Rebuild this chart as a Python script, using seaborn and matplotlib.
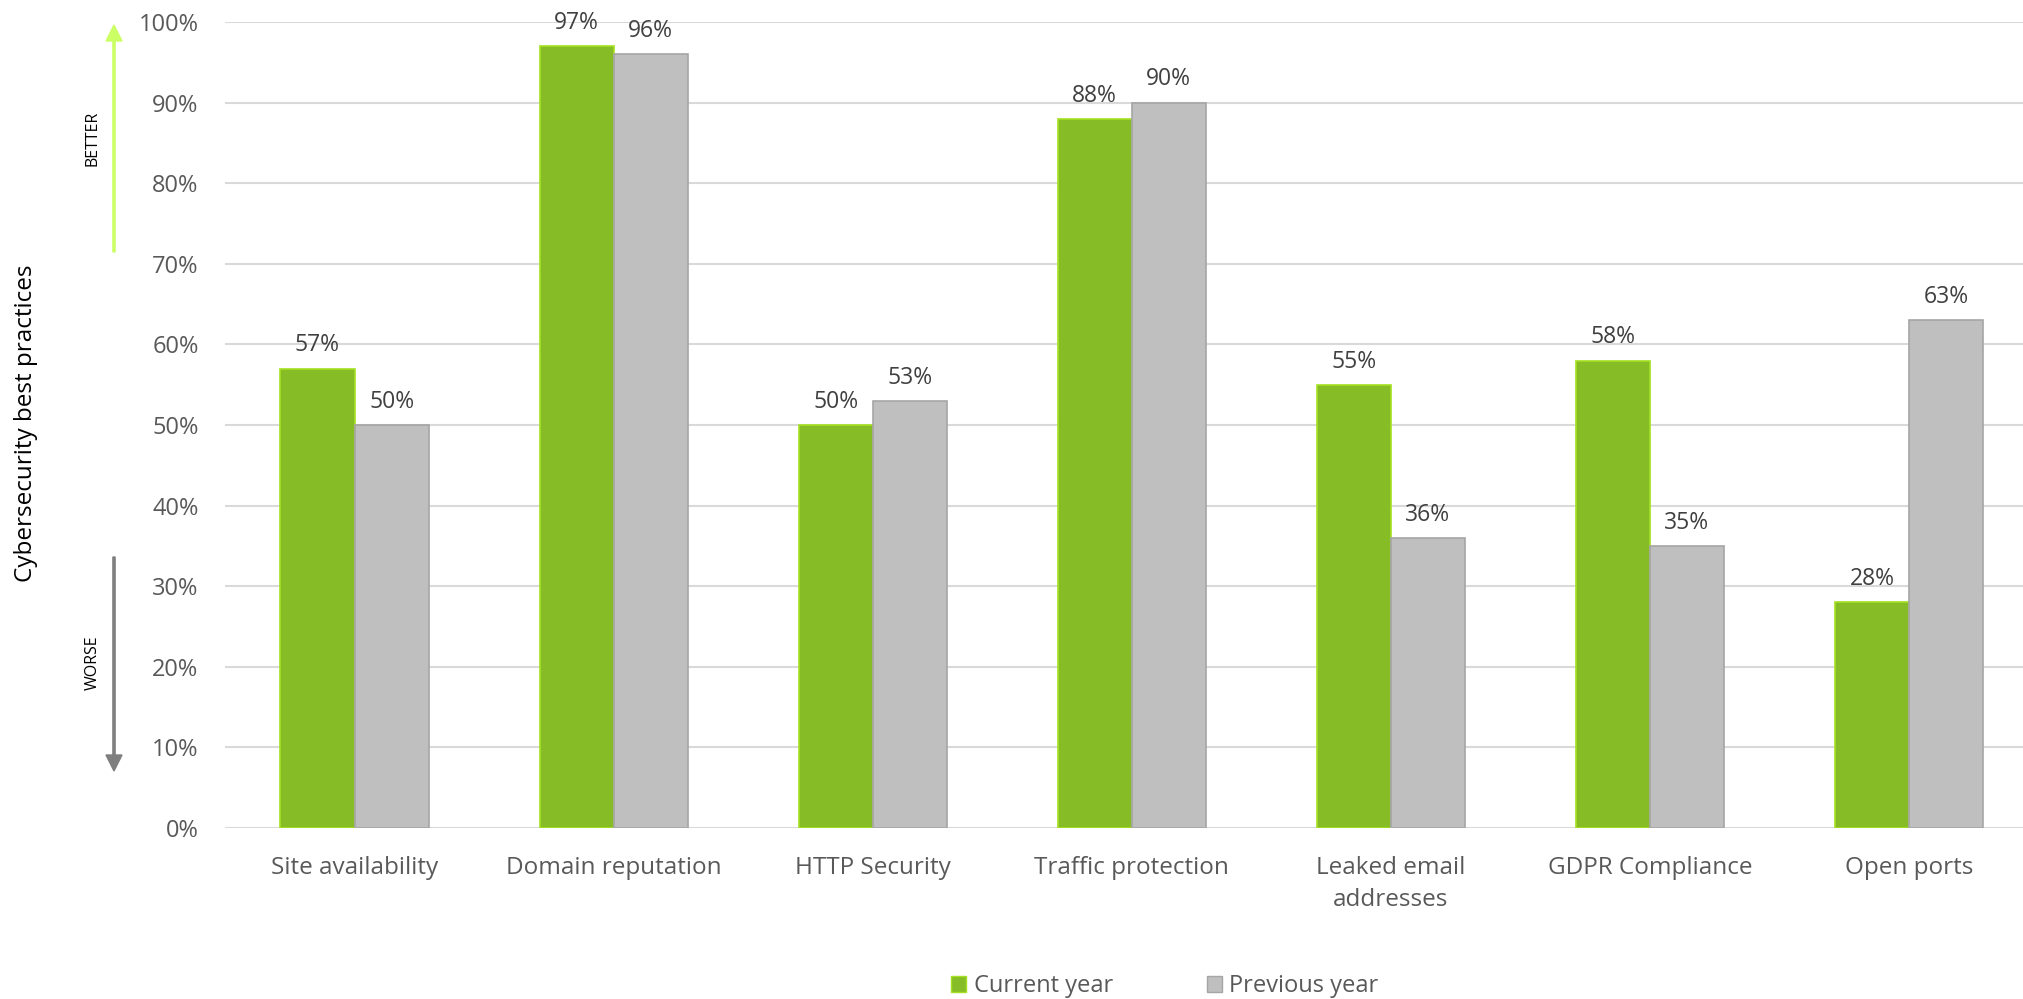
import matplotlib
matplotlib.use("Agg")
import matplotlib.pyplot as plt
from matplotlib.patches import FancyArrow, Patch
import seaborn as sns
import pandas as pd

categories = ["Site availability", "Domain reputation", "HTTP Security",
              "Traffic protection", "Leaked email\naddresses", "GDPR Compliance",
              "Open ports"]
current_year = [57, 97, 50, 88, 55, 58, 28]
previous_year = [50, 96, 53, 90, 36, 35, 63]
series_names = ["Current year", "Previous year"]
y_ticks = [0, 10, 20, 30, 40, 50, 60, 70, 80, 90, 100]

GREEN = "#86BC25"
GREEN_EDGE = "#A6E022"
GREY = "#BFBFBF"
GREY_EDGE = "#A5A5A5"
TEXT = "#595959"
GRID = "#D9D9D9"

sns.set_theme(style="white")
plt.rcParams["font.family"] = ["Open Sans", "DejaVu Sans"]

df = pd.DataFrame({
    "category": categories * 2,
    "value": current_year + previous_year,
    "series": [series_names[0]] * len(categories) + [series_names[1]] * len(categories),
})

W, H = 2023, 999
fig = plt.figure(figsize=(W / 100, H / 100), dpi=100)
ax = fig.add_axes([225 / W, 1 - 828 / H, (W - 225) / W, (828 - 22) / H])

sns.barplot(data=df, x="category", y="value", hue="series", order=categories,
            hue_order=series_names, palette=[GREEN, GREY], width=0.572,
            saturation=1, ax=ax, legend=False, zorder=3)

edge_colors = [GREEN_EDGE, GREY_EDGE]
for container, ec in zip(ax.containers, edge_colors):
    for bar in container:
        bar.set_edgecolor(ec)
        bar.set_linewidth(1.2)
    ax.bar_label(container, labels=[f"{int(v)}%" for v in container.datavalues],
                 padding=8, fontsize=16.5, color="#404040")

ax.set_ylim(0, 100)
ax.set_xlim(-0.5, 6.44)
ax.set_yticks(y_ticks)
ax.set_yticklabels([f"{t}%" for t in y_ticks], fontsize=17, color=TEXT)
ax.tick_params(axis="y", length=0, pad=19)
ax.tick_params(axis="x", length=0, pad=20, labelsize=17.5, labelcolor=TEXT)
for lbl in ax.get_xticklabels():
    lbl.set_linespacing(1.45)
ax.yaxis.grid(True, color=GRID, linewidth=1.5, zorder=0)
ax.set_axisbelow(True)
for s in ax.spines.values():
    s.set_visible(False)
ax.set_xlabel("")
ax.set_ylabel("")

fig.text(26 / W, 1 - 423 / H, "Cybersecurity best practices", rotation=90,
         ha="center", va="center", fontsize=17.5, color="black")

# Direction hints beside the value axis
arrow_x = 114 / W
head_w = 16 / W
head_l = 16 / H
shaft_w = 2.2 / W
fig.patches.append(FancyArrow(
    arrow_x, 1 - 252 / H, 0, (252 - 25 - 16) / H, width=shaft_w, head_width=head_w,
    head_length=head_l, color="#CCFF66", transform=fig.transFigure, figure=fig))
fig.patches.append(FancyArrow(
    arrow_x, 1 - 557 / H, 0, -(771 - 557 - 16) / H, width=shaft_w, head_width=head_w,
    head_length=head_l, color="#7F7F7F", transform=fig.transFigure, figure=fig))
fig.text(93 / W, 1 - 138 / H, "BETTER", rotation=90, ha="center", va="center",
         fontsize=11.5, color="black")
fig.text(93 / W, 1 - 663 / H, "WORSE", rotation=90, ha="center", va="center",
         fontsize=11.5, color="black")

handles = [Patch(facecolor=GREEN, edgecolor=GREEN_EDGE),
           Patch(facecolor=GREY, edgecolor=GREY_EDGE)]
fig.legend(handles, series_names, loc="center", bbox_to_anchor=(1165 / W, 1 - 986 / H),
           ncol=2, frameon=False, fontsize=17, labelcolor=TEXT, handlelength=0.64,
           handleheight=0.64, handletextpad=0.3, columnspacing=4)

fig.savefig("out.png", dpi=100)
